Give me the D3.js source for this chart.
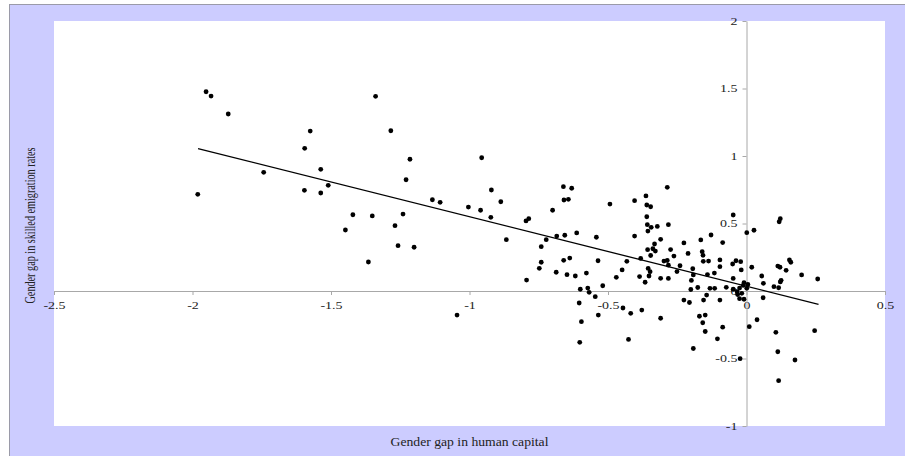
<!DOCTYPE html>
<html>
<head>
<meta charset="utf-8">
<script src="https://cdn.jsdelivr.net/npm/d3@7"></script>
<style>
  body { margin: 0; background: #fff; }
  .axis path, .axis line { stroke: #a8a8a8; }
  .axis text { font-family: "Liberation Serif", "DejaVu Serif", serif; font-size: 10px; fill: #222; }
  .title { font-family: "Liberation Serif", "DejaVu Serif", serif; fill: #222; }
</style>
</head>
<body>
<div id="chart"></div>
<script>
// gender gap in human capital (x) and in skilled emigration rates (y), one entry per country
const gapHumanCapital = [
  -1.951, -1.933, -1.871, -1.339, -1.575, -1.284, -1.595, -1.215, -1.743, -1.537,
  -1.229, -1.981, -1.596, -1.537, -1.510, -1.134, -1.106, -1.421, -1.351, -1.240,
  -1.448, -1.269, -1.258, -1.200, -1.365, -0.956, -0.921, -0.887, -1.004, -0.960,
  -0.923, -0.867, -0.794, -0.786, -0.796, -0.700, -0.661, -0.659, -0.643, -0.631,
  -0.723, -0.741, -0.741, -0.748, -0.685, -0.656, -0.613, -0.687, -0.660, -0.638,
  -0.648, -0.618, -0.578, -0.542, -0.536, -0.600, -0.573, -0.568, -0.546, -0.604,
  -0.535, -0.596, -0.602, -1.045,
  -0.493, -0.404, -0.363, -0.360, -0.346, -0.360, -0.358, -0.356, -0.344, -0.322,
  -0.282, -0.286, -0.404, -0.310, -0.332, -0.338, -0.357, -0.226, -0.165, -0.128,
  -0.086, -0.048, 0.001, 0.027, 0.122, 0.118, -0.274, -0.346, -0.382, -0.432,
  -0.449, -0.470, -0.519, -0.386, -0.366, -0.355, -0.348, -0.352, -0.310, -0.282,
  -0.298, -0.286, -0.282, -0.262, -0.251, -0.240, -0.211, -0.194, -0.192, -0.199,
  -0.201, -0.160, -0.157, -0.156, -0.176, -0.137, -0.141, -0.116, -0.132, -0.115,
  -0.096, -0.096, -0.073, -0.050, -0.038, -0.021, -0.019, -0.048, -0.009, 0.005,
  0.019, -0.048, -0.034, -0.025, -0.012, 0.001, 0.055, 0.061, 0.099, 0.116,
  0.122, 0.125, 0.113, 0.121, 0.143, 0.155, 0.160, 0.199, 0.257, -0.032,
  -0.025, -0.009, 0.060, 0.010, 0.038, -0.023, -0.096, -0.155, -0.144, -0.226,
  -0.206, -0.170, -0.149, -0.158, -0.149, -0.086, -0.105, -0.192, -0.310, -0.378,
  -0.418, -0.446, -0.426, 0.106, 0.113, 0.116, 0.175, 0.246, -0.329, -0.017
];
const gapEmigration = [
  1.476, 1.444, 1.311, 1.442, 1.185, 1.187, 1.057, 0.976, 0.879, 0.901,
  0.824, 0.716, 0.746, 0.726, 0.783, 0.676, 0.657, 0.565, 0.556, 0.570,
  0.452, 0.484, 0.336, 0.324, 0.215, 0.987, 0.748, 0.661, 0.622, 0.598,
  0.546, 0.380, 0.081, 0.536, 0.519, 0.598, 0.773, 0.674, 0.679, 0.761,
  0.380, 0.328, 0.213, 0.168, 0.407, 0.413, 0.430, 0.139, 0.227, 0.244,
  0.121, 0.111, 0.133, 0.398, 0.224, 0.013, 0.022, -0.010, -0.042, -0.089,
  -0.178, -0.227, -0.380, -0.178,
  0.644, 0.669, 0.704, 0.637, 0.624, 0.550, 0.491, 0.444, 0.472, 0.478,
  0.491, 0.768, 0.407, 0.383, 0.348, 0.313, 0.306, 0.356, 0.378, 0.415,
  0.359, 0.563, 0.432, 0.450, 0.536, 0.513, 0.307, 0.263, 0.241, 0.220,
  0.156, 0.101, 0.039, 0.107, 0.065, 0.167, 0.143, 0.111, 0.094, 0.093,
  0.222, 0.226, 0.191, 0.259, 0.144, 0.187, 0.278, 0.165, 0.119, 0.078,
  0.011, 0.291, 0.264, 0.220, 0.026, 0.222, 0.122, 0.133, 0.020, 0.020,
  0.230, 0.180, 0.027, 0.200, 0.224, 0.217, 0.156, 0.093, 0.061, 0.048,
  0.176, 0.013, -0.004, 0.022, 0.041, 0.020, 0.111, 0.057, 0.032, 0.024,
  0.067, 0.079, 0.185, 0.176, 0.153, 0.230, 0.213, 0.119, 0.089, -0.026,
  -0.057, -0.061, -0.050, -0.264, -0.213, -0.501, -0.067, -0.067, -0.030, -0.067,
  -0.085, -0.187, -0.178, -0.235, -0.300, -0.268, -0.354, -0.426, -0.202, -0.141,
  -0.165, -0.126, -0.359, -0.306, -0.450, -0.664, -0.511, -0.294, 0.296, -0.017
];

// linear fit drawn over the data range
const fitRange = [-1.98, 0.26];
const fitSlope = -0.515;
const fitIntercept = 0.035;

const xTicks = [-2.5, -2, -1.5, -1, -0.5, 0, 0.5];
const yTicks = [-1, -0.5, 0, 0.5, 1, 1.5, 2];

const W = 905;
const H = 456;
const plot = { left: 54, right: 885, top: 21, bottom: 426 };
const stretch = 1.4; // labels in the original are wide

const svg = d3
  .select("#chart")
  .append("svg")
  .attr("width", W)
  .attr("height", H);

// lavender frame
svg
  .append("rect")
  .attr("x", 9.5)
  .attr("y", 4.5)
  .attr("width", W)
  .attr("height", H)
  .attr("fill", "#ccccff")
  .attr("stroke", "#9a9aa8");

// plot area
svg
  .append("rect")
  .attr("x", plot.left)
  .attr("y", plot.top)
  .attr("width", plot.right - plot.left)
  .attr("height", plot.bottom - plot.top)
  .attr("fill", "#ffffff");

const xScale = d3.scaleLinear().domain([-2.5, 0.5]).range([plot.left, plot.right]);
const yScale = d3.scaleLinear().domain([-1, 2]).range([plot.bottom, plot.top]);

const fmt = (d) => String(d);

// axes cross at the origin
svg
  .append("g")
  .attr("class", "axis")
  .attr("transform", `translate(0, ${yScale(0)})`)
  .call(
    d3.axisBottom(xScale).tickValues(xTicks).tickFormat(fmt)
      .tickSize(4).tickSizeOuter(0).tickPadding(7)
  )
  .selectAll("text")
  .attr("transform", `scale(${stretch}, 1)`);

svg
  .append("g")
  .attr("class", "axis")
  .attr("transform", `translate(${xScale(0)}, 0)`)
  .call(
    d3.axisLeft(yScale).tickValues(yTicks).tickFormat(fmt)
      .tickSize(4).tickSizeOuter(0).tickPadding(5)
  )
  .selectAll("text")
  .attr("x", 0)
  .attr("transform", `translate(-9, 0) scale(${stretch}, 1)`);

// fit line
svg
  .append("line")
  .attr("x1", xScale(fitRange[0]))
  .attr("y1", yScale(fitIntercept + fitSlope * fitRange[0]))
  .attr("x2", xScale(fitRange[1]))
  .attr("y2", yScale(fitIntercept + fitSlope * fitRange[1]))
  .attr("stroke", "#000")
  .attr("stroke-width", 1.3);

// points
svg
  .append("g")
  .selectAll("circle")
  .data(d3.range(gapHumanCapital.length))
  .join("circle")
  .attr("cx", (i) => xScale(gapHumanCapital[i]))
  .attr("cy", (i) => yScale(gapEmigration[i]))
  .attr("r", 2.4)
  .attr("fill", "#000");

// axis titles
svg
  .append("text")
  .attr("class", "title")
  .attr("x", (plot.left + plot.right) / 2)
  .attr("y", 446)
  .attr("text-anchor", "middle")
  .attr("font-size", "11.5px")
  .attr("textLength", 158)
  .attr("lengthAdjust", "spacingAndGlyphs")
  .text("Gender gap in human capital");

svg
  .append("text")
  .attr("class", "title")
  .attr("transform", `translate(35, ${(plot.top + plot.bottom) / 2 + 2}) rotate(-90)`)
  .attr("text-anchor", "middle")
  .attr("font-size", "14px")
  .attr("textLength", 156)
  .attr("lengthAdjust", "spacingAndGlyphs")
  .text("Gender gap in skilled emigration rates");
</script>
</body>
</html>
